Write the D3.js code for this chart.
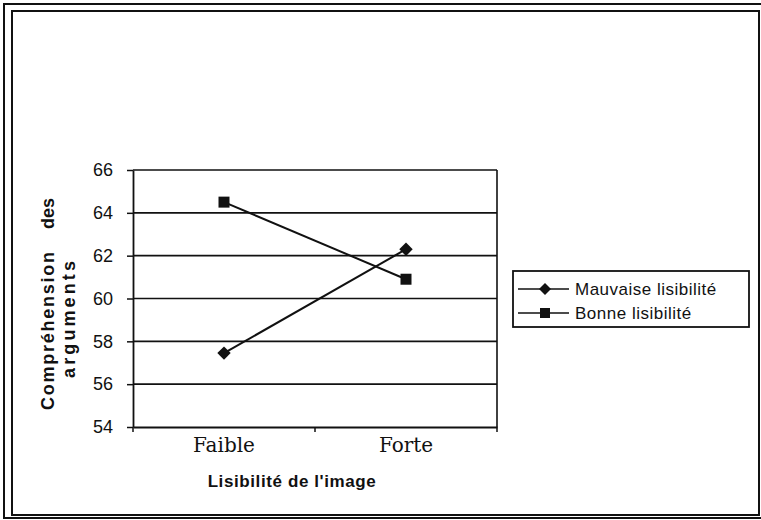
<!DOCTYPE html>
<html>
<head>
<meta charset="utf-8">
<script src="https://cdn.jsdelivr.net/npm/d3@7"></script>
<style>
  body { margin: 0; background: #fff; }
  svg { display: block; }
</style>
</head>
<body>
<svg width="761" height="520"></svg>
<script>
// data
const categories = ['Faible', 'Forte'];
const seriesNames = ['Mauvaise lisibilité', 'Bonne lisibilité'];
const mauvaise = [57.45, 62.3];
const bonne = [64.5, 60.9];
const yTicks = [54, 56, 58, 60, 62, 64, 66];

// diamonds are squares turned by 45 degrees, as in the original
const series = [
    { name: seriesNames[0], values: mauvaise, size: 90, turn: 45 },
    { name: seriesNames[1], values: bonne, size: 121, turn: 0 }
];

const svg = d3.select('svg');
const INK = '#111';

// plot area
const PLOT = { left: 133, right: 497, top: 170, bottom: 427 };

const x = d3.scaleBand()
    .domain(categories)
    .range([PLOT.left, PLOT.right])
    .padding(0);
const y = d3.scaleLinear()
    .domain([54, 66])
    .range([PLOT.bottom, PLOT.top]);

// double frame around the whole chart
svg.append('rect')
    .attr('x', 4).attr('y', 4).attr('width', 762).attr('height', 514)
    .attr('fill', 'none').attr('stroke', INK).attr('stroke-width', 2);
svg.append('rect')
    .attr('x', 12).attr('y', 11).attr('width', 747).attr('height', 504)
    .attr('fill', 'none').attr('stroke', INK).attr('stroke-width', 2);

// gridlines
svg.append('g')
    .selectAll('line')
    .data(yTicks.slice(1))
    .join('line')
    .attr('x1', PLOT.left).attr('x2', PLOT.right)
    .attr('y1', d => y(d)).attr('y2', d => y(d))
    .attr('stroke', INK).attr('stroke-width', 1.6);

// right border of the plot area
svg.append('line')
    .attr('x1', PLOT.right).attr('x2', PLOT.right)
    .attr('y1', PLOT.top).attr('y2', PLOT.bottom)
    .attr('stroke', INK).attr('stroke-width', 1.6);

// y axis
const yAxis = svg.append('g')
    .attr('transform', `translate(${PLOT.left},0)`)
    .call(d3.axisLeft(y).tickValues(yTicks).tickSize(6).tickPadding(14).tickSizeOuter(0));
yAxis.select('.domain').attr('stroke', INK).attr('stroke-width', 1.8);
yAxis.selectAll('.tick line').attr('stroke', INK).attr('stroke-width', 1.5);
yAxis.selectAll('.tick text')
    .attr('fill', INK)
    .style('font-family', '"Liberation Sans", Arial, sans-serif')
    .style('font-size', '18px');

// x axis
const xAxis = svg.append('g')
    .attr('transform', `translate(0,${PLOT.bottom})`)
    .call(d3.axisBottom(x).tickSize(0).tickPadding(9));
xAxis.select('.domain').attr('stroke', INK).attr('stroke-width', 1.8);
xAxis.selectAll('.tick text')
    .attr('fill', INK)
    .attr('dy', '0.8em')
    .style('font-family', '"DejaVu Serif", "Liberation Serif", serif')
    .style('font-size', '20px');
// category separators on the x axis
svg.append('g')
    .selectAll('line')
    .data([PLOT.left, x('Forte'), PLOT.right])
    .join('line')
    .attr('x1', d => d).attr('x2', d => d)
    .attr('y1', PLOT.bottom).attr('y2', PLOT.bottom + 5)
    .attr('stroke', INK).attr('stroke-width', 1.5);

// series lines and markers
const cx = i => x(categories[i]) + x.bandwidth() / 2;
const line = d3.line()
    .x((d, i) => cx(i))
    .y(d => y(d));

series.forEach(s => {
    svg.append('path')
        .datum(s.values)
        .attr('d', line)
        .attr('fill', 'none')
        .attr('stroke', INK)
        .attr('stroke-width', 2);
    svg.append('g')
        .selectAll('path')
        .data(s.values)
        .join('path')
        .attr('d', d3.symbol().type(d3.symbolSquare).size(s.size))
        .attr('transform', (d, i) => `translate(${cx(i)},${y(d)}) rotate(${s.turn})`)
        .attr('fill', INK);
});

// axis titles
svg.append('text')
    .attr('x', 292).attr('y', 487)
    .attr('text-anchor', 'middle')
    .attr('fill', INK)
    .style('font-family', '"Liberation Sans", Arial, sans-serif')
    .style('font-weight', 'bold')
    .style('font-size', '17px')
    .style('letter-spacing', '0.6px')
    .text("Lisibilité de l'image");

const yTitle = svg.append('g')
    .attr('transform', 'translate(54,303) rotate(-90)')
    .attr('fill', INK)
    .style('font-family', '"Liberation Sans", Arial, sans-serif')
    .style('font-weight', 'bold')
    .style('font-size', '18px');
yTitle.append('text')
    .attr('x', -107).attr('y', 0)
    .attr('textLength', 158).attr('lengthAdjust', 'spacing')
    .text('Compréhension');
yTitle.append('text')
    .attr('x', 74).attr('y', 0)
    .text('des');
yTitle.append('text')
    .attr('x', -75).attr('y', 21)
    .attr('textLength', 117).attr('lengthAdjust', 'spacing')
    .text('arguments');

// legend
const legend = svg.append('g');
legend.append('rect')
    .attr('x', 513).attr('y', 271).attr('width', 236).attr('height', 56)
    .attr('fill', 'none').attr('stroke', INK).attr('stroke-width', 1.8);
const items = legend.selectAll('g.item')
    .data(series)
    .join('g')
    .attr('class', 'item')
    .attr('transform', (d, i) => `translate(0,${289 + i * 24})`);
items.append('line')
    .attr('x1', 518).attr('x2', 569)
    .attr('stroke', INK).attr('stroke-width', 1.5);
items.append('path')
    .attr('d', d => d3.symbol().type(d3.symbolSquare).size(d.turn ? 72 : 100)())
    .attr('transform', d => `translate(545,0) rotate(${d.turn})`)
    .attr('fill', INK);
items.append('text')
    .attr('x', 575).attr('dy', '0.36em')
    .attr('fill', INK)
    .style('font-family', '"Liberation Sans", Arial, sans-serif')
    .style('font-size', '17px')
    .style('letter-spacing', '0.5px')
    .text(d => d.name);
</script>
</body>
</html>
